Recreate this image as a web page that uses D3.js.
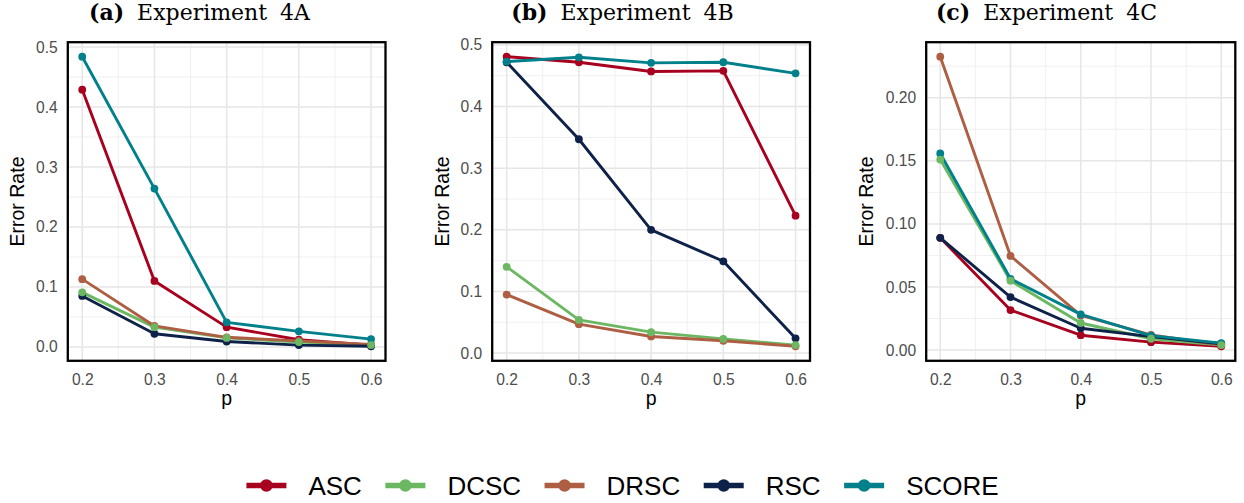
<!DOCTYPE html>
<html>
<head>
<meta charset="utf-8">
<script src="https://cdn.jsdelivr.net/npm/d3@7"></script>
<style>
  body { margin: 0; background: #fff; }
  svg { display: block; }
</style>
</head>
<body>
<svg id="chart" width="1244" height="503"></svg>
<script>
// x values (p), shared by the three experiments
var pValues = [0.2, 0.3, 0.4, 0.5, 0.6];
var methodNames = ["ASC", "DCSC", "DRSC", "RSC", "SCORE"];
var methodColors = ["#a8001f", "#6cb862", "#ae5f43", "#0e2249", "#00808a"];

// Experiment 4A error rates
var exp4A_ASC   = [0.429, 0.110, 0.033, 0.012, 0.003];
var exp4A_DCSC  = [0.091, 0.033, 0.015, 0.008, 0.003];
var exp4A_DRSC  = [0.113, 0.035, 0.016, 0.010, 0.004];
var exp4A_RSC   = [0.085, 0.022, 0.009, 0.003, 0.001];
var exp4A_SCORE = [0.484, 0.264, 0.041, 0.026, 0.013];

// Experiment 4B error rates
var exp4B_ASC   = [0.481, 0.472, 0.457, 0.458, 0.223];
var exp4B_DCSC  = [0.140, 0.054, 0.034, 0.023, 0.013];
var exp4B_DRSC  = [0.095, 0.047, 0.027, 0.020, 0.011];
var exp4B_RSC   = [0.472, 0.347, 0.200, 0.149, 0.024];
var exp4B_SCORE = [0.473, 0.480, 0.471, 0.472, 0.454];

// Experiment 4C error rates
var exp4C_ASC   = [0.089, 0.0317, 0.0118, 0.0063, 0.003];
var exp4C_DCSC  = [0.151, 0.055, 0.0215, 0.009, 0.004];
var exp4C_DRSC  = [0.2325, 0.0746, 0.0275, 0.012, 0.004];
var exp4C_RSC   = [0.089, 0.042, 0.0173, 0.0107, 0.005];
var exp4C_SCORE = [0.1558, 0.0565, 0.0283, 0.0115, 0.0055];

var xTicks = [0.2, 0.3, 0.4, 0.5, 0.6];
var yTicks4A = [0, 0.1, 0.2, 0.3, 0.4, 0.5];
var yTicks4B = [0, 0.1, 0.2, 0.3, 0.4, 0.5];
var yTicks4C = [0, 0.05, 0.10, 0.15, 0.20];

var svg = d3.select("#chart");
var plotTop = 42.2, plotBottom = 360.8;

var panels = [
  { tag: "(a)", title: "Experiment 4A", series: [exp4A_ASC, exp4A_DCSC, exp4A_DRSC, exp4A_RSC, exp4A_SCORE],
    yTicks: yTicks4A, fmt: ".1f", left: 67.8, right: 385.5, titleX: 199.5, yTitleX: 17 },
  { tag: "(b)", title: "Experiment 4B", series: [exp4B_ASC, exp4B_DCSC, exp4B_DRSC, exp4B_RSC, exp4B_SCORE],
    yTicks: yTicks4B, fmt: ".1f", left: 492.2, right: 810, titleX: 622.5, yTitleX: 442 },
  { tag: "(c)", title: "Experiment 4C", series: [exp4C_ASC, exp4C_DCSC, exp4C_DRSC, exp4C_RSC, exp4C_SCORE],
    yTicks: yTicks4C, fmt: ".2f", left: 926.2, right: 1235.3, titleX: 1046.5, yTitleX: 866 }
];

// ggplot-like 5% expansion of the data range
function expand(lo, hi) {
  var d = (hi - lo) * 0.05;
  return [lo - d, hi + d];
}

// midpoints between major ticks, plus one beyond each end
function minorTicks(ticks, domain) {
  var step = ticks[1] - ticks[0];
  var out = [];
  for (var v = ticks[0] - step / 2; v <= domain[1]; v += step) {
    if (v >= domain[0]) out.push(+v.toFixed(6));
  }
  return out;
}

panels.forEach(function (pn) {
  var all = [].concat.apply([], pn.series);
  var x = d3.scaleLinear().domain(expand(0.2, 0.6)).range([pn.left, pn.right]);
  var yDom = expand(d3.min(all), d3.max(all));
  var y = d3.scaleLinear().domain(yDom).range([plotBottom, plotTop]);
  var g = svg.append("g");

  // grid lines
  var xMinor = minorTicks(xTicks, x.domain());
  var yMinor = minorTicks(pn.yTicks, yDom);
  g.selectAll(".xminor").data(xMinor).enter().append("line")
    .attr("x1", function (d) { return x(d); }).attr("x2", function (d) { return x(d); })
    .attr("y1", plotTop).attr("y2", plotBottom)
    .style("stroke", "#eeeeee").style("stroke-width", 0.9);
  g.selectAll(".yminor").data(yMinor).enter().append("line")
    .attr("y1", function (d) { return y(d); }).attr("y2", function (d) { return y(d); })
    .attr("x1", pn.left).attr("x2", pn.right)
    .style("stroke", "#eeeeee").style("stroke-width", 0.9);
  g.selectAll(".xmajor").data(xTicks).enter().append("line")
    .attr("x1", function (d) { return x(d); }).attr("x2", function (d) { return x(d); })
    .attr("y1", plotTop).attr("y2", plotBottom)
    .style("stroke", "#e6e6e6").style("stroke-width", 1.5);
  g.selectAll(".ymajor").data(pn.yTicks).enter().append("line")
    .attr("y1", function (d) { return y(d); }).attr("y2", function (d) { return y(d); })
    .attr("x1", pn.left).attr("x2", pn.right)
    .style("stroke", "#e6e6e6").style("stroke-width", 1.5);

  // lines first, then points (DCSC points last, as in the picture)
  var line = d3.line().x(function (d, i) { return x(pValues[i]); }).y(function (d) { return y(d); });
  pn.series.forEach(function (s, k) {
    g.append("path").datum(s).attr("d", line)
      .style("fill", "none").style("stroke", methodColors[k]).style("stroke-width", 2.9)
      .style("stroke-linejoin", "round");
  });
  [0, 2, 3, 4, 1].forEach(function (k) {
    g.selectAll(".pt" + k).data(pn.series[k]).enter().append("circle")
      .attr("cx", function (d, i) { return x(pValues[i]); })
      .attr("cy", function (d) { return y(d); })
      .attr("r", 3.9)
      .style("fill", methodColors[k]);
  });

  // border
  g.append("rect").attr("x", pn.left).attr("y", plotTop)
    .attr("width", pn.right - pn.left).attr("height", plotBottom - plotTop)
    .style("fill", "none").style("stroke", "#000").style("stroke-width", 2.3);

  // axes (labels only)
  var xAxis = d3.axisBottom(x).tickValues(xTicks).tickFormat(d3.format(".1f")).tickSize(0).tickPadding(13);
  var yAxis = d3.axisLeft(y).tickValues(pn.yTicks).tickFormat(d3.format(pn.fmt)).tickSize(0).tickPadding(10);
  var ax = g.append("g").attr("transform", "translate(0," + plotBottom + ")").call(xAxis);
  var ay = g.append("g").attr("transform", "translate(" + pn.left + ",0)").call(yAxis);
  [ax, ay].forEach(function (a) {
    a.select(".domain").remove();
    a.selectAll("text").style("font-family", "Liberation Sans, Arial, sans-serif")
      .style("font-size", "15.6px").style("fill", "#4d4d4d");
  });

  g.append("text").attr("x", (pn.left + pn.right) / 2).attr("y", 405)
    .attr("text-anchor", "middle")
    .style("font-family", "Liberation Sans, Arial, sans-serif").style("font-size", "19.5px")
    .text("p");
  g.append("text")
    .attr("transform", "translate(" + (pn.yTitleX + 7) + "," + ((plotTop + plotBottom) / 2) + ") rotate(-90)")
    .attr("text-anchor", "middle")
    .style("font-family", "Liberation Sans, Arial, sans-serif").style("font-size", "19.5px")
    .text("Error Rate");

  // subfigure caption
  var t = svg.append("text").attr("x", pn.titleX).attr("y", 19.5).attr("text-anchor", "middle")
    .style("font-family", "DejaVu Serif, serif").style("font-size", "22px");
  t.append("tspan").style("font-weight", "bold").text(pn.tag);
  t.append("tspan").attr("dx", 13).text("Experiment");
  t.append("tspan").attr("dx", 13).text(pn.title.split(" ")[1]);
});

// legend, centred under the panels
var leg = svg.append("g");
var items = leg.selectAll("g").data(methodNames).enter().append("g");
items.append("line").attr("x1", 0).attr("x2", 40).attr("y1", 485.5).attr("y2", 485.5)
  .style("stroke", function (d, i) { return methodColors[i]; }).style("stroke-width", 5.5);
items.append("circle").attr("cx", 20).attr("cy", 485.5).attr("r", 6.2)
  .style("fill", function (d, i) { return methodColors[i]; });
items.append("text").attr("x", 62).attr("y", 495)
  .style("font-family", "Liberation Sans, Arial, sans-serif").style("font-size", "26px")
  .text(function (d) { return d; });
var pos = 0;
var offsets = [];
items.each(function () {
  var w = d3.select(this).select("text").node().getComputedTextLength();
  offsets.push(pos);
  pos += 62 + w + 23.5;
});
pos -= 23.5;
var start = 622.5 - pos / 2;
items.attr("transform", function (d, i) { return "translate(" + (start + offsets[i]) + ",0)"; });
</script>
</body>
</html>
